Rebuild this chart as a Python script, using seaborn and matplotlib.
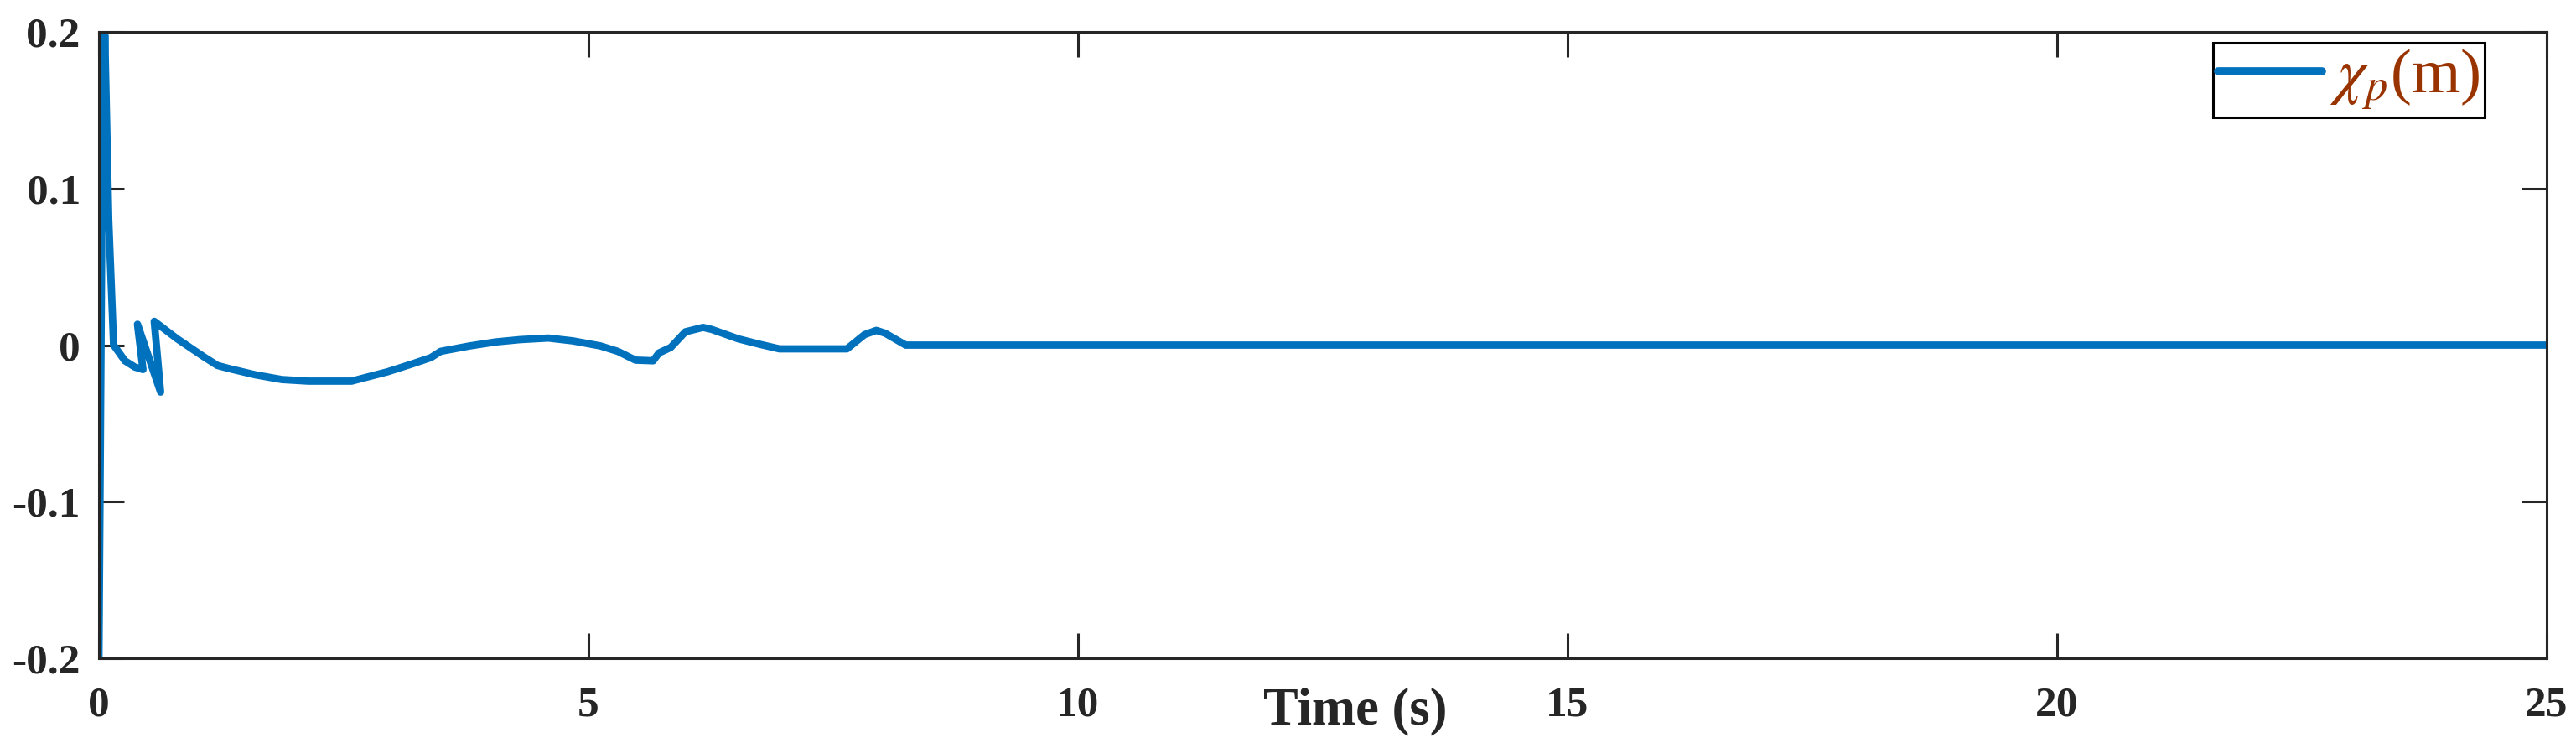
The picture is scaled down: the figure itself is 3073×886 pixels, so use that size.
import pandas as pd
import seaborn as sns
import matplotlib
matplotlib.use("Agg")
from matplotlib import pyplot as plt

# data (time in s, chi_p in m), path order kept
time_s = [0.0, 0.03, 0.06, 0.10, 0.15, 0.174, 0.265, 0.366, 0.45, 0.394,
          0.63, 0.565, 0.8, 1.06, 1.21, 1.33, 1.6, 1.87, 2.14, 2.58,
          2.95, 3.2, 3.39, 3.49, 3.78, 4.05, 4.30, 4.59, 4.84, 5.12,
          5.3, 5.48, 5.66, 5.72, 5.84, 5.99, 6.17, 6.26, 6.53, 6.75,
          6.95, 7.64, 7.82, 7.94, 8.03, 8.24, 25.0]
chi_p = [-0.2, 0.08, 0.198, 0.08, 0.0, -0.002, -0.01, -0.014, -0.0156, 0.0133,
         -0.030, 0.0152, 0.004, -0.007, -0.013, -0.015, -0.019, -0.022, -0.023, -0.023,
         -0.017, -0.012, -0.008, -0.004, -0.0006, 0.002, 0.0035, 0.0045, 0.0027, -0.0005,
         -0.004, -0.0096, -0.01, -0.005, -0.0015, 0.0085, 0.0113, 0.010, 0.004, 0.0005,
         -0.0024, -0.0024, 0.0067, 0.0094, 0.0076, 0.0, 0.0]

x_ticks = [0, 5, 10, 15, 20, 25]
y_ticks = [-0.2, -0.1, 0, 0.1, 0.2]
y_tick_labels = ['-0.2', '-0.1', '0', '0.1', '0.2']
series_label = r'$\chi_p$(m)'

df = pd.DataFrame({'t': time_s, 'chi': chi_p})

sns.set_style('ticks')
plt.rcParams['font.family'] = ['Liberation Serif', 'DejaVu Serif']
plt.rcParams['mathtext.fontset'] = 'stix'

ink = '#262626'
fig = plt.figure(figsize=(30.73, 8.86), dpi=100)
ax = fig.add_axes([118 / 3073, 101 / 886, 2920 / 3073, 747 / 886])

sns.lineplot(data=df, x='t', y='chi', sort=False, estimator=None,
             color='#0072BD', linewidth=6.3, label=series_label, ax=ax)

ax.set_xlim(0, 25)
ax.set_ylim(-0.2, 0.2)
ax.set_xticks(x_ticks)
ax.set_xticklabels([str(v) for v in x_ticks])
ax.set_yticks(y_ticks)
ax.set_yticklabels(y_tick_labels)

for sp in ax.spines.values():
    sp.set_visible(True)
    sp.set_linewidth(2.2)
    sp.set_color(ink)

ax.tick_params(axis='both', direction='in', length=21.6, width=2.2, color=ink,
               top=True, right=True, labelcolor=ink, labelsize=37)
ax.tick_params(axis='x', pad=24)
ax.tick_params(axis='y', pad=16)
for lab in ax.get_xticklabels() + ax.get_yticklabels():
    lab.set_fontweight('bold')

ax.set_ylabel('')
ax.set_xlabel('Time (s)', fontsize=45, fontweight='bold', color=ink)
ax.xaxis.set_label_coords((1617 - 118) / 2920, (785 - 863) / 747)
ax.xaxis.label.set_va('baseline')

leg = ax.legend(loc='upper right', bbox_to_anchor=((2964 - 118) / 2920, (785 - 51) / 747),
                borderaxespad=0, fancybox=False, framealpha=1, edgecolor='black',
                prop={'family': 'Liberation Serif', 'size': 54},
                labelcolor='#993300', handlelength=1.65, handletextpad=0.12,
                borderpad=0.08)
leg.get_frame().set_linewidth(2.2)
for h in leg.get_lines():
    h.set_linewidth(7)

fig.savefig('out.png', dpi=100)
